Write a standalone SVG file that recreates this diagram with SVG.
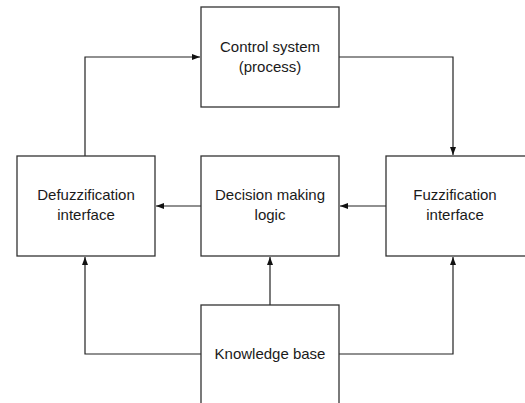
<svg xmlns="http://www.w3.org/2000/svg" width="525" height="403" viewBox="0 0 525 403">
<style>
.box{fill:#fff;stroke:#333;stroke-width:1.3}
.lbl{font-family:"Liberation Sans",Arial,sans-serif;font-size:15px;fill:#1a1a1a;text-anchor:middle}
.con{fill:none;stroke:#222;stroke-width:1.2}
</style>
<defs>
<marker id="ah" viewBox="0 0 8 6" refX="8" refY="3" markerWidth="8" markerHeight="6" markerUnits="userSpaceOnUse" orient="auto">
<path d="M0,0 L8,3 L0,6 Z" fill="#111"/>
</marker>
</defs>
<g id="connectors">
<path class="con" d="M85,156 V57 H200" marker-end="url(#ah)"/>
<path class="con" d="M339,57 H453 V155" marker-end="url(#ah)"/>
<path class="con" d="M386,206 H340" marker-end="url(#ah)"/>
<path class="con" d="M201,206 H156" marker-end="url(#ah)"/>
<path class="con" d="M201,354 H85 V257" marker-end="url(#ah)"/>
<path class="con" d="M339,354 H453 V257" marker-end="url(#ah)"/>
<path class="con" d="M270,305 V257" marker-end="url(#ah)"/>
</g>
<g id="control">
<rect class="box" x="201" y="7" width="138" height="100"/>
<text class="lbl" x="270" y="52">Control system</text>
<text class="lbl" x="270" y="72">(process)</text>
</g>
<g id="defuzz">
<rect class="box" x="17" y="156" width="138" height="100"/>
<text class="lbl" x="86" y="200">Defuzzification</text>
<text class="lbl" x="86" y="220">interface</text>
</g>
<g id="decision">
<rect class="box" x="201" y="156" width="138" height="100"/>
<text class="lbl" x="270" y="200">Decision making</text>
<text class="lbl" x="270" y="220">logic</text>
</g>
<g id="fuzz">
<rect class="box" x="386" y="156" width="140" height="100"/>
<text class="lbl" x="455" y="200">Fuzzification</text>
<text class="lbl" x="455" y="220">interface</text>
</g>
<g id="knowledge">
<rect class="box" x="201" y="305" width="138" height="110"/>
<text class="lbl" x="270" y="359">Knowledge base</text>
</g>
</svg>
